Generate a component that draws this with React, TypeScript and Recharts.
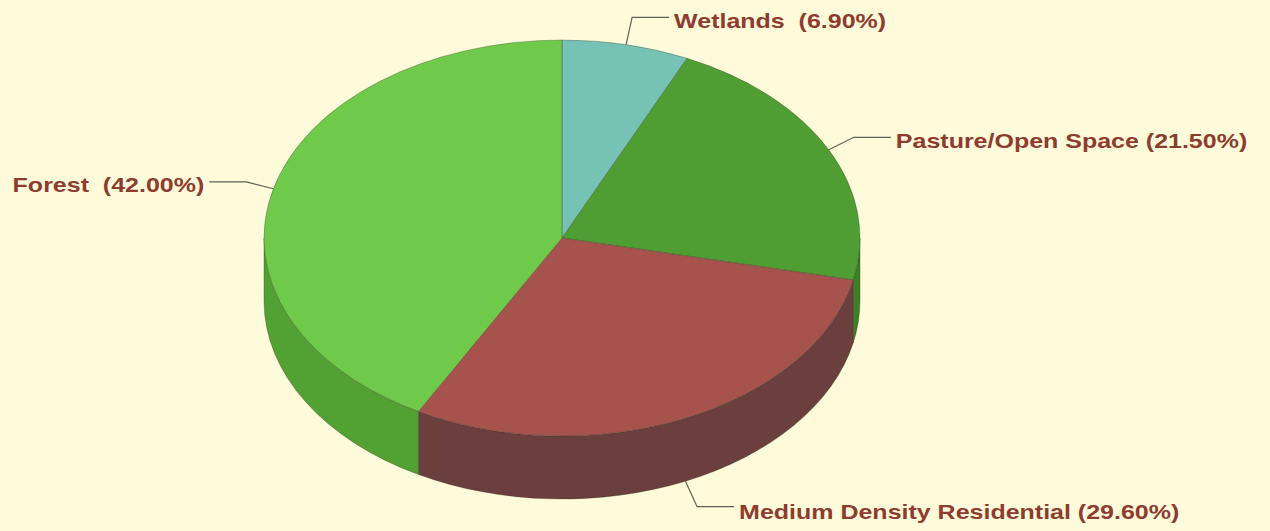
import React from "react";
import { PieChart, Pie, Cell } from "recharts";

const categories = ["Wetlands", "Pasture/Open Space", "Medium Density Residential", "Forest"];
const shares = [6.9, 21.5, 29.6, 42.0];
const labelGaps = ["  ", " ", " ", "  "];

const topColors = ["#76c3b5", "#4f9e33", "#a6534d", "#6fc94b"];
const sideColors = ["#4f8f84", "#3d7f27", "#6b3f3d", "#52a133"];

const W = 1270;
const H = 531;
const RY_RATIO = 198 / 298;
const DEPTH = 63;
const LABEL_COLOR = "#8f3b30";
const LINE_COLOR = "#5f6258";

const data = categories.map((name, i) => ({
  name,
  value: shares[i],
  gap: labelGaps[i],
  fill: topColors[i],
  sideColor: sideColors[i],
}));

const RAD = Math.PI / 180;

function pt(cx: number, cy: number, rx: number, ry: number, a: number, dy = 0) {
  return [cx + rx * Math.cos(a * RAD), cy - ry * Math.sin(a * RAD) + dy];
}

function Sector3D(props: any) {
  const { cx, cy, outerRadius, startAngle, endAngle } = props;
  const fill = props.fill;
  const sideColor = props.payload?.sideColor ?? props.sideColor ?? fill;
  const rx = outerRadius;
  const ry = outerRadius * RY_RATIO;
  const a1 = Math.min(startAngle, endAngle);
  const a2 = Math.max(startAngle, endAngle);

  const walls: React.ReactNode[] = [];
  for (let k = -3; k <= 3; k++) {
    const lo = -180 + 360 * k;
    const hi = 360 * k;
    const b1 = Math.max(lo, a1);
    const b2 = Math.min(hi, a2);
    if (b2 - b1 > 0.01) {
      const [x2, y2] = pt(cx, cy, rx, ry, b2);
      const [x1, y1] = pt(cx, cy, rx, ry, b1);
      const large = b2 - b1 > 180 ? 1 : 0;
      const d =
        `M${x2},${y2} A${rx},${ry} 0 ${large} 1 ${x1},${y1} ` +
        `L${x1},${y1 + DEPTH} A${rx},${ry} 0 ${large} 0 ${x2},${y2 + DEPTH} Z`;
      walls.push(
        <path key={k} d={d} fill={sideColor} stroke="rgba(50,40,30,0.45)" strokeWidth={0.7} />
      );
    }
  }

  const [sx, sy] = pt(cx, cy, rx, ry, a2);
  const [ex, ey] = pt(cx, cy, rx, ry, a1);
  const large = a2 - a1 > 180 ? 1 : 0;
  const top = `M${cx},${cy} L${sx},${sy} A${rx},${ry} 0 ${large} 1 ${ex},${ey} Z`;

  return (
    <g>
      {walls}
      <path d={top} fill={fill} stroke="rgba(50,50,35,0.45)" strokeWidth={0.7} />
    </g>
  );
}

function renderLabel(props: any) {
  const { cx, cy, outerRadius, midAngle, name, value } = props;
  const gap = props.payload?.gap ?? props.gap ?? " ";
  const rx = outerRadius;
  const ry = outerRadius * RY_RATIO;
  const c = Math.cos(midAngle * RAD);
  const s = Math.sin(midAngle * RAD);
  const ax = cx + rx * c;
  const ay = cy - ry * s + (s < 0 ? DEPTH : 0);
  const ex = ax + 28 * c;
  const ey = ay - 28 * s;
  const dir = c >= 0 ? 1 : -1;
  const hx = ex + dir * 37;
  const tx = hx + dir * 5;
  const ty = ey + (s < 0 ? 5 : 3);
  const text = `${name}${gap}(${Number(value).toFixed(2)}%)`;
  return (
    <g>
      <polyline
        points={`${ax},${ay} ${ex},${ey} ${hx},${ey}`}
        fill="none"
        stroke={LINE_COLOR}
        strokeWidth={1.2}
      />
      <text
        transform={`translate(${tx},${ty}) scale(1.19,1)`}
        x={0}
        y={0}
        textAnchor={dir > 0 ? "start" : "end"}
        dominantBaseline="central"
        fill={LABEL_COLOR}
        fontFamily="'Liberation Sans', Arial, sans-serif"
        fontWeight="bold"
        fontSize={21}
        style={{ whiteSpace: "pre" }}
      >
        {text}
      </text>
    </g>
  );
}

export default function App() {
  return (
    <div
      style={{
        position: "absolute",
        left: 0,
        top: 0,
        width: W,
        height: H,
        background: "#fdfbda",
        overflow: "hidden",
      }}
    >
      <PieChart width={W} height={H} margin={{ top: 0, right: 0, bottom: 0, left: 0 }}>
        <Pie
          data={data}
          dataKey="value"
          nameKey="name"
          cx={562}
          cy={238}
          innerRadius={0}
          outerRadius={298}
          startAngle={90}
          endAngle={-270}
          isAnimationActive={false}
          stroke="none"
          labelLine={false}
          label={renderLabel}
          shape={Sector3D}
          activeShape={Sector3D}
          inactiveShape={Sector3D}
        >
          {data.map((d, i) => (
            <Cell key={i} fill={topColors[i]} />
          ))}
        </Pie>
      </PieChart>
    </div>
  );
}
